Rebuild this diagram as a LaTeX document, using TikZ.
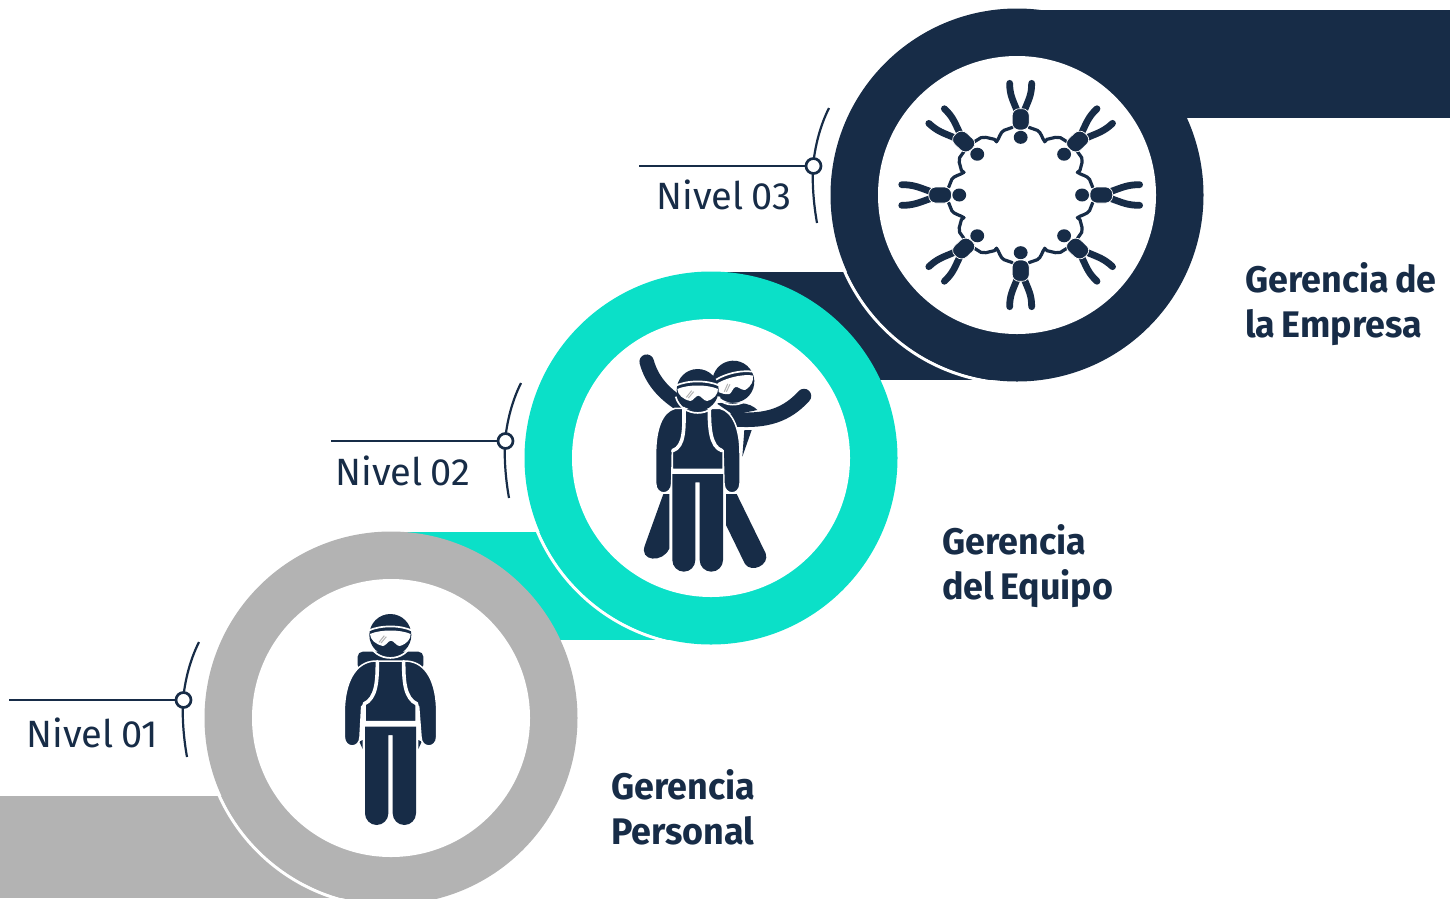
\documentclass[tikz,border=0pt]{standalone}
\usepackage{fontspec}
\setmainfont{Fira Sans}[BoldFeatures={FakeStretch=0.97},WordSpace=0.75]
\definecolor{navy}{HTML}{172C47}
\definecolor{teal1}{HTML}{0BE0C8}
\definecolor{gray1}{HTML}{B3B3B3}
\tikzset{
  ring/.style={circle,fill=#1,minimum size=373pt,inner sep=0pt},
  hole/.style={circle,fill=white,minimum size=278pt,inner sep=0pt},
  lead/.style={draw=navy,line width=2.7pt},
  dot/.style={circle,draw=navy,fill=white,line width=2.7pt,minimum size=15pt,inner sep=0pt},
  nivel/.style={text=navy,font=\fontsize{38}{38}\selectfont,anchor=base west,inner sep=0pt},
  gerencia/.style={text=navy,font=\bfseries\fontsize{37}{45}\selectfont,anchor=base west,inner sep=0pt,align=left},
}
\newcommand{\gogglehead}{%
  \fill[navy] (0,0) circle (63);
  \draw[white,line width=1.7pt] (-66,-13) .. controls (-30,-30) and (30,-30) .. (66,-13);
  \fill[white] (-61,-3) .. controls (-30,-17) and (30,-17) .. (61,-3)
     .. controls (61,12) and (50,27) .. (28,33) .. controls (18,33) and (10,17) .. (2,17)
     .. controls (-6,17) and (-14,33) .. (-22,33) .. controls (-45,28) and (-60,14) .. (-61,-3) -- cycle;
  \draw[gray1,line width=1pt] (-34,22) -- (-18,2) (-28,24) -- (-12,5);
  \draw[white,line width=1.7pt] (-66,20) .. controls (-48,85) and (48,85) .. (66,20);
}
\newcommand{\chainarm}{%
  \draw[navy,line width=3.2pt,line cap=round,line join=round]
    (23,-203) -- (47,-194) .. controls (58,-188) and (60,-170) .. (68,-160) -- (74,-167) -- (98,-173) -- (112,-172) -- (130,-160);
  \fill[navy] (68,-160) circle (5);
}
\begin{document}
\begin{tikzpicture}[x=1pt,y=-1pt]
\useasboundingbox (0,0) rectangle (1450,898);
% bands
\fill[gray1] (0,796) rectangle (391,898);
\fill[teal1] (391,532) rectangle (711,640);
\fill[navy] (711,272) rectangle (1017,380);
\fill[navy] (1017,10) rectangle (1450,118);
% white edges where a ring passes over its own band
\begin{scope}\clip (0,796) rectangle (391,898);\draw[white,line width=3pt] (391,718) circle (188.5);\end{scope}
\begin{scope}\clip (391,532) rectangle (711,640);\draw[white,line width=3pt] (711,458) circle (188.5);\end{scope}
\begin{scope}\clip (711,272) rectangle (1017,380);\draw[white,line width=3pt] (1017,195) circle (188.5);\end{scope}
% rings
\begin{scope}\clip (0,0) rectangle (1450,898);
\node[ring=gray1] (r1) at (391,718) {};
\end{scope}
\node[ring=teal1] (r2) at (711,458) {};
\node[ring=navy] (r3) at (1017,195) {};
\node[hole] (h1) at (391,718) {};
\node[hole] (h2) at (711,458) {};
\node[hole] (h3) at (1017,195) {};

% person 1
\begin{scope}[shift={(320,600)},scale=1/3]
  \fill[navy,rounded corners=5pt] (113,155) rectangle (310,210);
  \fill[navy] (118,425) -- (128,420) -- (128,447) -- cycle;
  \fill[navy] (305,425) -- (295,420) -- (295,447) -- cycle;
  \path[fill=navy,draw=white,line width=1.5pt] (73,410) -- (73,335) .. controls (73,250) and (105,185) .. (165,183)
     -- (258,183) .. controls (320,185) and (350,250) .. (350,335) -- (350,410)
     .. controls (350,447) and (303,447) .. (303,410) -- (296,320) -- (288,310) -- (288,365) -- (135,365) -- (135,310)
     -- (125,320) -- (120,410) .. controls (120,447) and (73,447) .. (73,410) -- cycle;
  \draw[white,line width=3.6pt,line cap=round] (172,185) .. controls (172,240) and (170,295) .. (132,312);
  \draw[white,line width=3.6pt,line cap=round] (251,185) .. controls (251,240) and (253,295) .. (291,312);
  \fill[navy] (135,380) -- (288,380) -- (288,640) arc[start angle=0,end angle=180,x radius=35,y radius=35] -- (218,405) -- (205,405) -- (205,640) arc[start angle=0,end angle=180,x radius=35,y radius=35] -- cycle;
  \begin{scope}[shift={(211,105)}]\gogglehead\end{scope}
\end{scope}

% person 2
\begin{scope}[shift={(620,340)},scale=1/3]
  % back figure
  \draw[navy,line width=14.5pt,line cap=round] (80,65) .. controls (95,120) and (130,160) .. (185,195);
  \draw[navy,line width=14.5pt,line cap=round] (552,168) .. controls (500,225) and (440,245) .. (345,238);
  \fill[navy] (290,190) .. controls (340,185) and (390,185) .. (412,210) -- (340,225) -- cycle;
  \fill[navy] (373,270) -- (395,270) -- (367,350) -- cycle;
  \begin{scope}[shift={(340,125)},rotate=15]\gogglehead\end{scope}
  \fill[navy] (130,462) -- (148,462) -- (148,625) .. controls (130,670) and (55,665) .. (75,615) -- cycle;
  \fill[navy] (318,462) -- (350,462) -- (437,640) .. controls (450,675) and (395,700) .. (375,672) -- (318,555) -- cycle;
  \path[fill=navy,draw=white,line width=1.5pt] (107,430) -- (107,340) .. controls (107,270) and (125,215) .. (165,205)
     -- (300,205) .. controls (340,215) and (360,270) .. (360,340) -- (360,430)
     .. controls (360,468) and (312,468) .. (312,430) -- (309,330) -- (309,388) -- (157,388) -- (157,330) -- (155,430)
     .. controls (155,468) and (107,468) .. (107,430) -- cycle;
  \draw[white,line width=3.6pt,line cap=round] (192,205) .. controls (192,260) and (195,320) .. (158,332);
  \draw[white,line width=3.6pt,line cap=round] (268,205) .. controls (268,260) and (270,320) .. (306,332);
  \fill[navy] (157,402) -- (309,402) -- (309,660) arc[start angle=0,end angle=180,x radius=35,y radius=35] -- (239,427) -- (226,427) -- (226,660) arc[start angle=0,end angle=180,x radius=34.5,y radius=35] -- cycle;
  \begin{scope}[shift={(233,150)}]\gogglehead\end{scope}
\end{scope}

% ring of eight
\begin{scope}[shift={(1020.67,195)},scale=1/3,xscale=1.065]
 \foreach \a in {0,90,180,270}{
 \begin{scope}[rotate=\a]
   \chainarm
   \begin{scope}[xscale=-1]\chainarm\end{scope}
 \end{scope}}
 \foreach \a in {0,45,...,315}{
 \begin{scope}[rotate=\a]
   \draw[navy,line width=6.8pt,line cap=round,line join=round] (-11,-255) .. controls (-22,-285) and (-31,-300) .. (-31,-335);
   \draw[navy,line width=6.8pt,line cap=round,line join=round] (11,-255) .. controls (22,-285) and (31,-300) .. (31,-335);
   \fill[navy] (0,-173) circle (19.5);
   \path[fill=navy,draw=white,line width=.7pt,rounded corners=7pt] (-24,-259) rectangle (24,-195);
 \end{scope}}
\end{scope}

% leaders
\foreach \n/\dx/\dy/\tx/\ty/\txt in {1/0/0/26.5/747/Nivel 01,2/322/-259/335.5/485/Nivel 02,3/630/-534/656.5/209/Nivel 03}{
 \begin{scope}[shift={(\dx,\dy)}]
  \coordinate (s\n) at (9,700);
  \coordinate (a\n) at (199,642);
  \coordinate (e\n) at (187,757);
  \draw[lead,line width=2.2pt] (a\n) .. controls (190,660) and (185,680) .. (183,700) .. controls (182,720) and (184,740) .. (e\n);
  \node[dot] (d\n) at (183.5,700) {};
  \draw[lead] (s\n) -- (d\n);
 \end{scope}
 \node[nivel] (t\n) at (\tx,\ty) {\txt};
}

\node[gerencia] (g1) at (611,844) {Gerencia\\Personal};
\node[gerencia] (g2) at (942,599) {Gerencia\\del Equipo};
\node[gerencia] (g3) at (1245,337) {Gerencia de\\la Empresa};
\end{tikzpicture}
\end{document}
